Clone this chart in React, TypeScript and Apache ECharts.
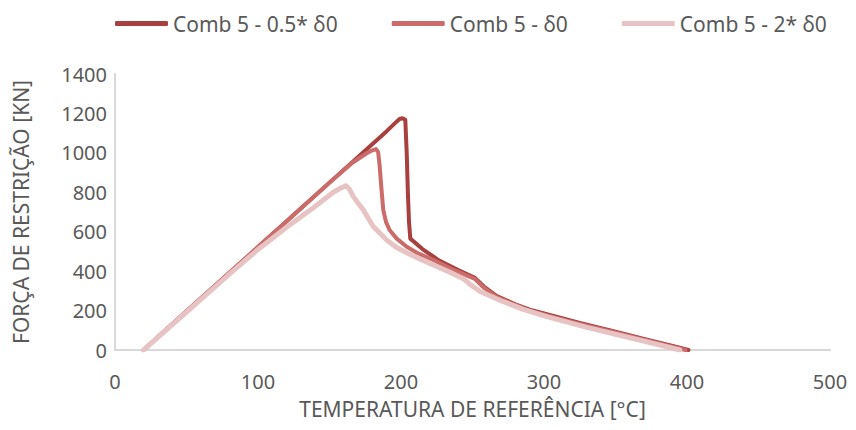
import React, { useEffect, useRef } from "react";
import * as echarts from "echarts";

const seriesNames = ["Comb 5 - 0.5* δ0", "Comb 5 - δ0", "Comb 5 - 2* δ0"];
const seriesColors = ["#A8403F", "#CB6B6A", "#E8C3C3"];

const comb05: [number, number][] = [
  [20, 0], [50, 196], [100, 522], [150, 849], [190, 1110], [196, 1152], [199, 1172], [201, 1176], [203, 1168],
  [204, 1000], [204.8, 800], [205.6, 650], [206.5, 565], [215, 512], [227, 452], [240, 405], [251.7, 366],
  [258, 322], [267, 273], [280, 232], [290, 205], [310, 166], [325, 137], [350, 93], [372, 52], [390, 20], [401, 0],
];

const comb1: [number, number][] = [
  [20, 0], [50, 196], [100, 522], [150, 849], [166, 950], [176, 998], [180, 1013], [182.5, 1019], [184, 1005],
  [185, 940], [186.3, 820], [187.6, 711], [189.5, 650], [192, 609], [197, 565], [204, 524], [212, 490],
  [222.6, 457], [234, 416], [245, 381], [251.7, 360], [258, 316], [267, 268], [290, 200], [325, 132],
  [350, 89], [372, 48], [399, 0],
];

const comb2: [number, number][] = [
  [20, 0], [50, 192], [82.7, 402], [100, 510], [120, 623], [138.7, 722], [152.7, 800], [158, 822], [161.5, 833],
  [164, 815], [166.7, 778], [170, 745], [173.6, 711], [177, 670], [180.6, 626], [185.3, 592], [190, 558],
  [197, 520], [204, 493], [212, 466], [222.6, 431], [234, 395], [243.6, 362], [248, 335], [255, 298],
  [270, 250], [285, 207], [301.9, 169], [330, 115], [350, 80], [371.8, 42], [395, 0],
];

const xTicks = { min: 0, max: 500, interval: 100 };
const yTicks = { min: 0, max: 1400, interval: 200 };

const font = "'Noto Sans', 'Open Sans', sans-serif";
const grey = "#595959";

export default function App() {
  const ref = useRef<HTMLDivElement>(null);
  useEffect(() => {
    if (!ref.current) return;
    const chart = echarts.init(ref.current, undefined, { renderer: "svg" });
    const datasets = [comb05, comb1, comb2];
    const widths = [4, 4, 5];
    chart.setOption({
      animation: false,
      backgroundColor: "#ffffff",
      textStyle: { fontFamily: font },
      legend: {
        top: 8,
        left: 110,
        itemWidth: 53,
        itemHeight: 5,
        itemGap: 54,
        textStyle: { color: grey, fontSize: 21, fontFamily: font },
        data: seriesNames.map((n) => ({ name: n, icon: "roundRect" })),
      },
      grid: { left: 115, right: 26, top: 74, bottom: 80 },
      xAxis: {
        type: "value",
        ...xTicks,
        name: "TEMPERATURA DE REFERÊNCIA [°C]",
        nameLocation: "middle",
        nameGap: 48,
        nameTextStyle: { color: grey, fontSize: 21, fontFamily: font },
        axisLine: { show: true, lineStyle: { color: "#d9d9d9", width: 2 } },
        axisTick: { show: false },
        splitLine: { show: false },
        axisLabel: { color: grey, fontSize: 20, margin: 21, fontFamily: font },
      },
      yAxis: {
        type: "value",
        ...yTicks,
        name: "FORÇA DE RESTRIÇÃO [KN]",
        nameLocation: "middle",
        nameGap: 84,
        nameTextStyle: { color: grey, fontSize: 21, fontFamily: font },
        axisLine: { show: true, lineStyle: { color: "#d9d9d9", width: 2 } },
        axisTick: { show: false },
        splitLine: { show: false },
        axisLabel: {
          color: grey,
          fontSize: 20,
          margin: 8,
          fontFamily: font,
          formatter: (v: number) => String(v),
        },
      },
      series: seriesNames.map((n, i) => ({
        name: n,
        type: "line",
        data: datasets[i],
        showSymbol: false,
        symbol: "none",
        z: 2 + i,
        itemStyle: { color: seriesColors[i] },
        lineStyle: { color: seriesColors[i], width: widths[i], cap: "round", join: "round" },
      })),
    });
    return () => chart.dispose();
  }, []);
  return <div ref={ref} style={{ width: 856, height: 430, margin: -8 }} />;
}
